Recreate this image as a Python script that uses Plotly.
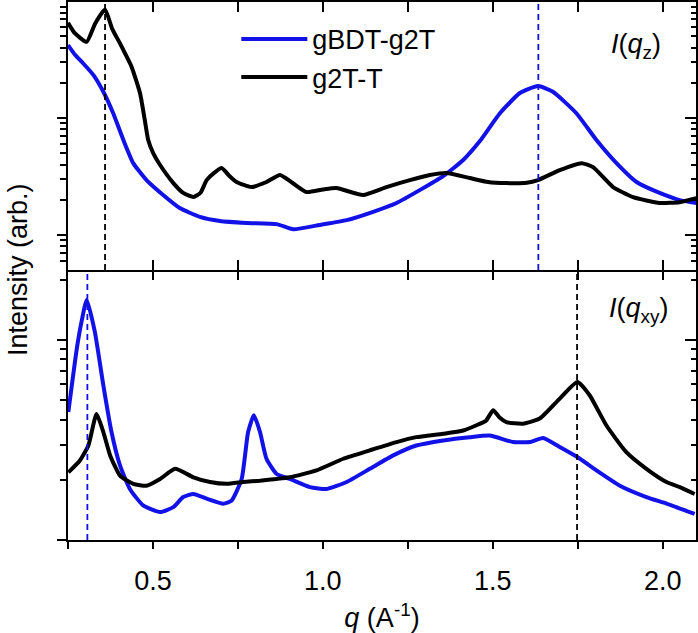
import plotly.graph_objects as go

# ---------------- data ----------------
# Top panel I(q_z)
qz_blue = [0.250, 0.270, 0.295, 0.325, 0.354, 0.383, 0.413, 0.442, 0.481, 0.530, 0.579, 0.638,
           0.697, 0.776, 0.864, 0.913, 0.991, 1.070, 1.148, 1.217, 1.285, 1.354, 1.413, 1.462,
           1.521, 1.579, 1.633, 1.677, 1.746, 1.805, 1.864, 1.923, 1.991, 2.050, 2.099]
Iz_blue = [42.1, 35.0, 29.3, 23.3, 16.8, 11.0, 6.49, 4.12, 2.95, 2.20, 1.70, 1.43,
           1.32, 1.27, 1.24, 1.12, 1.22, 1.34, 1.58, 1.88, 2.42, 3.19, 4.38, 6.36,
           11.0, 16.3, 18.8, 16.8, 11.0, 6.49, 4.12, 2.84, 2.29, 1.99, 1.88]

qz_black = [0.250, 0.270, 0.305, 0.330, 0.359, 0.380, 0.403, 0.418, 0.437, 0.462, 0.476, 0.486,
            0.501, 0.521, 0.560, 0.589, 0.619, 0.640, 0.658, 0.680, 0.702, 0.725, 0.746, 0.790,
            0.834, 0.874, 0.910, 0.952, 1.000, 1.040, 1.118, 1.187, 1.256, 1.315, 1.364, 1.432,
            1.486, 1.540, 1.600, 1.633, 1.697, 1.761, 1.795, 1.854, 1.913, 1.991, 2.050, 2.099]
Iz_black = [65.3, 53.2, 44.9, 64.5, 84.9, 58.0, 43.5, 35.7, 27.5, 16.3, 9.6, 6.49,
            4.99, 3.97, 2.78, 2.29, 2.11, 2.30, 2.95, 3.40, 3.74, 3.20, 2.84, 2.57,
            2.84, 3.26, 2.80, 2.33, 2.45, 2.52, 2.20, 2.57, 2.95, 3.26, 3.39, 3.07,
            2.84, 2.78, 2.80, 2.95, 3.59, 4.12, 3.81, 2.57, 2.11, 1.88, 1.91, 2.07]

# Bottom panel I(q_xy)
qxy_blue = [0.251, 0.276, 0.290, 0.305, 0.329, 0.354, 0.378, 0.403, 0.432, 0.471, 0.521, 0.560,
            0.589, 0.619, 0.658, 0.707, 0.731, 0.761, 0.780, 0.797, 0.815, 0.834, 0.864, 0.903,
            0.962, 1.011, 1.070, 1.138, 1.207, 1.275, 1.354, 1.432, 1.491, 1.560, 1.609, 1.648,
            1.697, 1.749, 1.805, 1.874, 1.952, 2.011, 2.094]
Ixy_blue = [4.37, 9.09, 12.4, 15.9, 11.0, 5.94, 3.47, 2.36, 1.80, 1.49, 1.38, 1.46,
            1.64, 1.70, 1.61, 1.52, 1.57, 2.02, 3.47, 4.21, 3.47, 2.55, 2.14, 2.02,
            1.84, 1.80, 1.95, 2.27, 2.65, 2.97, 3.15, 3.27, 3.33, 3.09, 3.09, 3.24,
            2.92, 2.60, 2.23, 1.87, 1.64, 1.52, 1.35]

qxy_black = [0.251, 0.285, 0.310, 0.334, 0.354, 0.374, 0.403, 0.442, 0.481, 0.521, 0.565, 0.619,
             0.668, 0.717, 0.766, 0.815, 0.864, 0.903, 0.981, 1.060, 1.138, 1.217, 1.275, 1.354,
             1.413, 1.452, 1.480, 1.501, 1.520, 1.540, 1.589, 1.638, 1.697, 1.749, 1.785, 1.834,
             1.893, 1.952, 2.011, 2.050, 2.094]
Ixy_black = [2.18, 2.50, 2.97, 4.27, 3.47, 2.65, 2.10, 1.91, 1.87, 2.02, 2.27, 2.06,
             1.95, 1.91, 1.95, 1.98, 2.02, 2.06, 2.23, 2.55, 2.81, 3.09, 3.27, 3.40,
             3.53, 3.75, 3.95, 4.46, 4.10, 3.89, 3.82, 4.05, 5.10, 6.18, 5.30, 3.75,
             2.75, 2.27, 1.95, 1.84, 1.70]

# peak markers (dashed lines)
peak_z_black = 0.359
peak_z_blue = 1.634
peak_xy_blue = 0.307
peak_xy_black = 1.748

names = ["gBDT-g2T", "g2T-T"]
x_major = [0.5, 1.0, 1.5, 2.0]
x_labels = ["0.5", "1.0", "1.5", "2.0"]
x_minor = [0.25, 0.75, 1.25, 1.75]
top_major = [1, 10, 100]
top_minor = [0.5, 0.6, 0.7, 0.8, 0.9, 2, 3, 4, 5, 6, 7, 8, 9, 20, 30, 40, 50, 60, 70, 80, 90]
bot_major = [1, 10]
bot_minor = [2, 3, 4, 5, 6, 7, 8, 9, 20]

BLUE = "#1212E8"
BLACK = "#000000"
FONT = "Arial, Liberation Sans, sans-serif"
FS = 27
LW = 4
split = 0.5019
xr = [0.25, 2.098]

fig = go.Figure()
# top panel
fig.add_trace(go.Scatter(x=qz_blue, y=Iz_blue, mode="lines", name=names[0],
                         line=dict(color=BLUE, width=LW, shape="spline", smoothing=0.5),
                         xaxis="x2", yaxis="y2", legendgroup="a"))
fig.add_trace(go.Scatter(x=qz_black, y=Iz_black, mode="lines", name=names[1],
                         line=dict(color=BLACK, width=LW, shape="spline", smoothing=0.5),
                         xaxis="x2", yaxis="y2", legendgroup="b"))
# bottom panel
fig.add_trace(go.Scatter(x=qxy_blue, y=Ixy_blue, mode="lines", name=names[0], showlegend=False,
                         line=dict(color=BLUE, width=LW, shape="spline", smoothing=0.5),
                         xaxis="x", yaxis="y", legendgroup="a"))
fig.add_trace(go.Scatter(x=qxy_black, y=Ixy_black, mode="lines", name=names[1], showlegend=False,
                         line=dict(color=BLACK, width=LW, shape="spline", smoothing=0.5),
                         xaxis="x", yaxis="y", legendgroup="b"))
# dummy traces so mirrored overlay axes are drawn
for xa, ya in [("x3", "y"), ("x", "y3"), ("x4", "y2"), ("x2", "y4")]:
    fig.add_trace(go.Scatter(x=[None], y=[None], xaxis=xa, yaxis=ya, showlegend=False,
                             hoverinfo="skip", mode="lines"))


def xax(ticks, ticklen, **kw):
    return dict(range=xr, tickvals=x_major, ticks=ticks, ticklen=ticklen, tickwidth=1.5,
                tickcolor="black", showgrid=False, zeroline=False, automargin=False,
                minor=dict(tickvals=x_minor, ticks=ticks, ticklen=ticklen, tickwidth=1.5,
                           tickcolor="black"),
                **kw)


def yax(rng, major, minor, ticks, ticklen, mlen, **kw):
    return dict(type="log", range=rng, tickvals=major, ticks=ticks, ticklen=ticklen,
                tickwidth=1.5, tickcolor="black",
                minor=dict(tickvals=minor, ticks=ticks, ticklen=mlen, tickwidth=1.5,
                           tickcolor="black"),
                showticklabels=False, showgrid=False, zeroline=False, automargin=False,
                showline=True, linewidth=2, linecolor="black", **kw)


fig.update_layout(
    width=698, height=633,
    margin=dict(l=68, r=2, t=2, b=93),
    paper_bgcolor="white", plot_bgcolor="white",
    font=dict(family=FONT, size=FS, color="black"),
    showlegend=True,
    legend=dict(x=0.268, y=0.976, xanchor="left", yanchor="top", bgcolor="rgba(0,0,0,0)",
                font=dict(size=FS), itemwidth=66, tracegroupgap=0),
    xaxis=xax("outside", 7, domain=[0, 1], anchor="y", ticktext=x_labels,
              showline=True, linewidth=2, linecolor="black", ticklabelstandoff=9,
              title=dict(text="<i>q</i> (A<sup>-1</sup>)", standoff=16, font=dict(size=FS))),
    xaxis3=xax("inside", 10, overlaying="x", anchor="y", side="top",
               showticklabels=False, showline=False),
    xaxis2=xax("inside", 10, domain=[0, 1], anchor="y2", showticklabels=False,
               showline=True, linewidth=2, linecolor="black"),
    xaxis4=xax("inside", 10, overlaying="x2", anchor="y2", side="top",
               showticklabels=False, showline=True, linewidth=2, linecolor="black"),
    yaxis=yax([0, 1.351], bot_major, bot_minor, "outside", 9, 6, domain=[0, split], anchor="x"),
    yaxis3=yax([0, 1.351], bot_major, bot_minor, "inside", 11, 5, overlaying="y", anchor="x",
               side="right"),
    yaxis2=yax([-0.299, 1.993], top_major, top_minor, "outside", 9, 6, domain=[split, 1],
               anchor="x2"),
    yaxis4=yax([-0.299, 1.993], top_major, top_minor, "inside", 11, 5, overlaying="y2",
               anchor="x2", side="right"),
)

dash = "6px,4px"
fig.add_shape(type="line", xref="x2", yref="y2 domain", x0=peak_z_black, x1=peak_z_black,
              y0=0, y1=1, line=dict(color=BLACK, width=1.8, dash=dash))
fig.add_shape(type="line", xref="x2", yref="y2 domain", x0=peak_z_blue, x1=peak_z_blue,
              y0=0, y1=1, line=dict(color=BLUE, width=1.8, dash=dash))
fig.add_shape(type="line", xref="x", yref="y domain", x0=peak_xy_blue, x1=peak_xy_blue,
              y0=0, y1=1, line=dict(color=BLUE, width=1.8, dash=dash))
fig.add_shape(type="line", xref="x", yref="y domain", x0=peak_xy_black, x1=peak_xy_black,
              y0=0, y1=1, line=dict(color=BLACK, width=1.8, dash=dash))

fig.add_annotation(text="<i>I</i>(<i>q</i><sub>z</sub>)", xref="paper", yref="paper",
                   x=0.904, y=0.918, xanchor="center", yanchor="middle", showarrow=False,
                   font=dict(size=FS))
fig.add_annotation(text="<i>I</i>(<i>q</i><sub>xy</sub>)", xref="paper", yref="paper",
                   x=0.908, y=0.4275, xanchor="center", yanchor="middle", showarrow=False,
                   font=dict(size=FS))
fig.add_annotation(text="Intensity (arb.)", xref="paper", yref="paper",
                   x=-0.0796, y=split, xanchor="center", yanchor="middle", showarrow=False,
                   textangle=-90, font=dict(size=FS))

fig.write_html("out.html", config={"displayModeBar": False},
               post_script="document.body.style.margin='0';")
